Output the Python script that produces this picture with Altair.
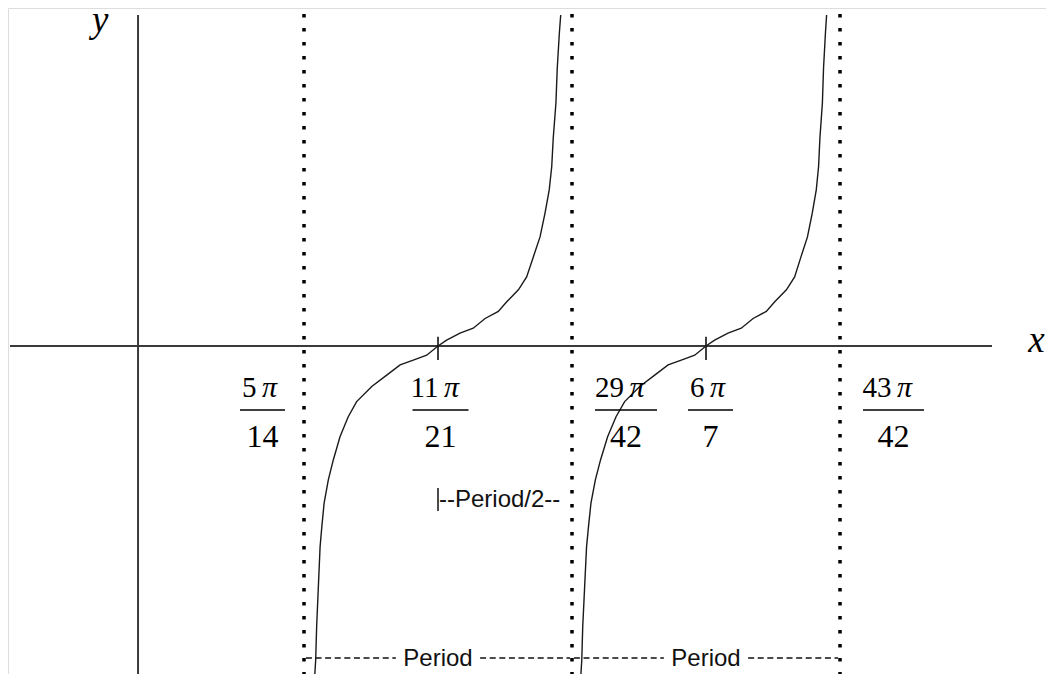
import altair as alt
import pandas as pd

# ---- data (x measured in multiples of pi/42, y in curve units) ----
branch1_x = [15.52, 15.54, 15.61, 15.66, 15.75, 15.84, 15.93, 16.05, 16.27, 16.53, 16.88, 17.31, 17.75,
             18.54, 19.32, 20.02, 20.71, 21.41, 22.00, 22.45, 23.15, 23.84, 24.46, 25.15, 25.59,
             26.20, 26.63, 26.98, 27.33, 27.59, 27.81, 27.94, 28.02, 28.16, 28.23, 28.34, 28.41]
branch1_y = [-6.40, -6.22, -5.82, -5.20, -4.46, -3.72, -3.35, -2.91, -2.48, -2.11, -1.68, -1.31, -1.03,
             -0.75, -0.54, -0.35, -0.26, -0.17, 0.00, 0.11, 0.24, 0.33, 0.51, 0.64, 0.82,
             1.04, 1.28, 1.65, 2.02, 2.46, 2.89, 3.32, 3.85, 4.50, 5.15, 5.80, 6.13]
branch2_x = [29.42, 29.44, 29.51, 29.56, 29.66, 29.76, 29.86, 29.99, 30.22, 30.49, 30.86, 31.30, 31.75,
             32.54, 33.32, 34.02, 34.71, 35.41, 36.00, 36.45, 37.15, 37.84, 38.46, 39.15, 39.59,
             40.20, 40.63, 40.96, 41.30, 41.55, 41.76, 41.88, 41.95, 42.08, 42.14, 42.24, 42.30]
branch2_y = [-6.40, -6.22, -5.82, -5.20, -4.46, -3.72, -3.35, -2.91, -2.48, -2.11, -1.68, -1.31, -1.03,
             -0.75, -0.54, -0.35, -0.26, -0.17, 0.00, 0.11, 0.24, 0.33, 0.51, 0.64, 0.82,
             1.04, 1.28, 1.65, 2.02, 2.46, 2.89, 3.32, 3.85, 4.50, 5.15, 5.80, 6.13]

asymptotes = [15, 29, 43]          # 5pi/14, 29pi/42, 43pi/42
centers = [22, 36]                 # 11pi/21, 6pi/7
tick_vals = [15, 22, 29, 36, 43]
tick_num = ["5", "11", "29", "6", "43"]
tick_den = ["14", "21", "42", "7", "42"]

# ---- layout (plot area = page minus the 8px margin) ----
W, H = 1038, 666
PX = 19.1429                       # pixels per pi/42
XDOM = [-0.463, 53.761]
YDOM = [-6.074, 6.2593]
label_off = [-41.5, 2.5, 54.0, 4.5, 53.5]   # label centre offset from tick (px)
bar_w = [45, 56, 62, 45, 61]
SERIF = "Liberation Serif"
SANS = "Liberation Sans"

xs = alt.Scale(domain=XDOM, nice=False, zero=False)
ys = alt.Scale(domain=YDOM, nice=False, zero=False)


def X(f):
    return alt.X(f, type="quantitative", scale=xs, axis=None)


def Y(f):
    return alt.Y(f, type="quantitative", scale=ys, axis=None)


curve_df = pd.DataFrame({
    "x": branch1_x + branch2_x,
    "y": branch1_y + branch2_y,
    "b": ["b1"] * len(branch1_x) + ["b2"] * len(branch2_x),
    "o": list(range(len(branch1_x))) + list(range(len(branch2_x))),
})

curves = alt.Chart(curve_df).mark_line(color="#1a1a1a", strokeWidth=1.4, clip=True).encode(
    x=X("x"), y=Y("y"), detail="b:N", order="o:Q")

xaxis = alt.Chart(pd.DataFrame({"x": [-0.358], "x2": [50.94], "y": [0]})).mark_rule(
    color="#3a3a3a", strokeWidth=2).encode(x=X("x"), x2="x2", y=Y("y"))

yaxis = alt.Chart(pd.DataFrame({"x": [6.33], "y": [6.13], "y2": [-6.5]})).mark_rule(
    color="#3a3a3a", strokeWidth=2, clip=True).encode(x=X("x"), y=Y("y"), y2="y2")

asym = alt.Chart(pd.DataFrame({"x": asymptotes, "y": [6.15] * 3, "y2": [-6.5] * 3})).mark_rule(
    color="black", strokeWidth=3.5, strokeDash=[3.5, 10.5], clip=True).encode(
    x=X("x"), y=Y("y"), y2="y2")

cticks = alt.Chart(pd.DataFrame({"x": centers, "y": [0.17] * 2, "y2": [-0.26] * 2})).mark_rule(
    color="black", strokeWidth=1.5).encode(x=X("x"), y=Y("y"), y2="y2")

lab = pd.DataFrame({"t": tick_vals, "num": tick_num, "den": tick_den,
                    "off": label_off, "bw": bar_w})
lab["c"] = lab["t"] + lab["off"] / PX
lab["nd"] = lab["num"].str.len()
lab["nend"] = lab["c"] + lab["nd"].map({1: -6.0, 2: -2.0}) / PX
lab["pstart"] = lab["nend"] + 5.5 / PX
lab["bl"] = lab["c"] - lab["bw"] / 2 / PX
lab["br"] = lab["c"] + lab["bw"] / 2 / PX
lab["pi"] = "π"

num_txt = alt.Chart(lab).mark_text(font=SERIF, fontSize=29, align="right", baseline="alphabetic",
                                   color="black").encode(x=X("nend"), y=alt.value(389), text="num:N")
pi_txt = alt.Chart(lab).mark_text(font=SERIF, fontSize=30, fontStyle="italic", align="left",
                                  baseline="alphabetic", color="black").encode(
    x=X("pstart"), y=alt.value(389), text="pi:N")
bars = alt.Chart(lab).mark_rule(color="black", strokeWidth=1.5).encode(
    x=X("bl"), x2="br", y=alt.value(402))
den_txt = alt.Chart(lab).mark_text(font=SERIF, fontSize=32, align="center", baseline="alphabetic",
                                   color="black").encode(x=X("c"), y=alt.value(439), text="den:N")

axis_lab = alt.Chart(pd.DataFrame({"x": [52.84, 3.93], "py": [344, 24], "t": ["x", "y"]})).mark_text(
    font=SERIF, fontSize=37, fontStyle="italic", align="left", baseline="alphabetic", color="black"
).encode(x=X("x"), y=alt.Y("py:Q", scale=None, axis=None), text="t:N")

# period annotations
per_txt = alt.Chart(pd.DataFrame({"x": centers, "t": ["Period", "Period"]})).mark_text(
    font=SANS, fontSize=24, align="center", baseline="alphabetic", color="#111").encode(
    x=X("x"), y=alt.value(658), text="t:N")
per_dash = alt.Chart(pd.DataFrame({
    "x": [15.1, 24.2, 29.1, 38.2],
    "x2": [19.8, 28.9, 33.8, 42.9]})).mark_rule(
    color="#111", strokeWidth=1.5, strokeDash=[6, 3.6]).encode(x=X("x"), x2="x2", y=alt.value(650))

half_tick = alt.Chart(pd.DataFrame({"x": [22]})).mark_rule(color="#111", strokeWidth=1.5).encode(
    x=X("x"), y=alt.value(480), y2=alt.value(503))
half_txt = alt.Chart(pd.DataFrame({"x": [22.05], "t": ["--Period/2--"]})).mark_text(
    font=SANS, fontSize=24, align="left", baseline="alphabetic", color="#111").encode(
    x=X("x"), y=alt.value(499), text="t:N")

chart = alt.layer(
    xaxis, yaxis, asym, cticks, curves, bars, num_txt, pi_txt, den_txt, axis_lab,
    per_dash, per_txt, half_tick, half_txt
).properties(width=W, height=H, padding=0, autosize=alt.AutoSizeParams(type="none")).configure_view(
    stroke=None).configure(background="white")

chart.save("out.html", embed_options={"renderer": "svg", "actions": False})
